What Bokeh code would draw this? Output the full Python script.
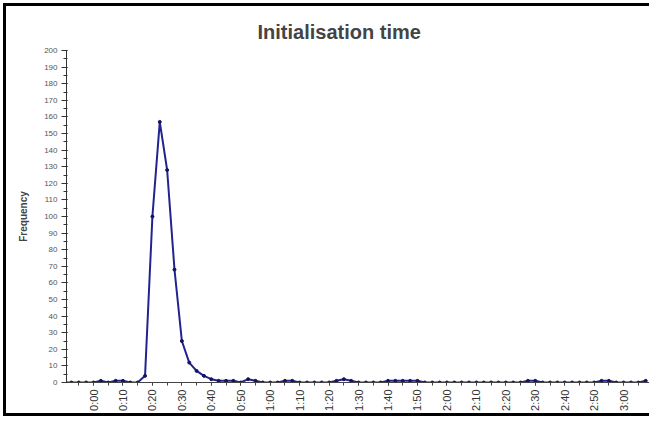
from math import pi

import numpy as np
from bokeh.plotting import figure
from bokeh.models import Range1d, FixedTicker
from bokeh.embed import file_html
from bokeh.resources import INLINE

# Sample times in seconds (bins of 2.5 s) and observed frequencies
seconds = np.arange(-10, 190, 2.5)
frequency = [
    0, 0, 0, 0, 0, 1, 0, 1, 1, 0,
    0, 4, 100, 157, 128, 68, 25, 12, 7, 4,
    2, 1, 1, 1, 0, 2, 1, 0, 0, 0,
    1, 1, 0, 0, 0, 0, 0, 1, 2, 1,
    0, 0, 0, 0, 1, 1, 1, 1, 1, 0,
    0, 0, 0, 0, 0, 0, 0, 0, 0, 0,
    0, 0, 0, 1, 1, 0, 0, 0, 0, 0,
    0, 0, 0, 1, 1, 0, 0, 0, 0, 1,
]

x_ticks = list(range(0, 181, 10))
x_tick_labels = [
    "0:00", "0:10", "0:20", "0:30", "0:40", "0:50",
    "1:00", "1:10", "1:20", "1:30", "1:40", "1:50",
    "2:00", "2:10", "2:20", "2:30", "2:40", "2:50", "3:00",
]
y_ticks = list(range(0, 201, 10))

FONT = "Liberation Sans"
LINE = "#23238f"

# the canvas sits inside a black frame drawn with CSS (open on the right,
# where the chart runs past the edge of the page)
p = figure(
    width=646, height=413,
    output_backend="svg", toolbar_location=None,
    x_range=Range1d(-9.17, 189.8), y_range=Range1d(0, 200),
    min_border_left=60, min_border_right=0,
    min_border_top=44, min_border_bottom=37,
    title="Initialisation time",
)
p.styles = {
    "margin-left": "3px",
    "margin-top": "3px",
    "border-left": "3px solid black",
    "border-top": "3px solid black",
    "border-bottom": "3px solid black",
    "border-right": "0px none",
    "outline": "none",
    "box-shadow": "none",
    "overflow": "hidden",
}
p.outline_line_color = None
p.xgrid.visible = False
p.ygrid.visible = False
p.background_fill_color = "white"
p.border_fill_color = "white"

p.title.text_font = FONT
p.title.text_font_style = "bold"
p.title.text_font_size = "20px"
p.title.align = "left"
p.title.offset = 191
p.title.standoff = 16

# the series
p.line(seconds, frequency, line_color=LINE, line_width=2)
p.scatter(seconds, frequency, size=3, color="#15155f")

# y axis
ya = p.yaxis[0]
ya.ticker = FixedTicker(ticks=y_ticks, minor_ticks=list(range(0, 201, 5)))
ya.axis_line_color = "#333333"
ya.major_tick_line_color = "#333333"
ya.minor_tick_line_color = "#333333"
ya.major_tick_out = 5
ya.major_tick_in = 1
ya.minor_tick_out = 3
ya.minor_tick_in = 1
ya.major_label_text_font = FONT
ya.major_label_text_font_size = "8px"
ya.major_label_text_color = "#555555"
ya.major_label_standoff = 4
ya.axis_label = "Frequency"
ya.axis_label_text_font = FONT
ya.axis_label_text_font_style = "bold"
ya.axis_label_text_font_size = "10px"
ya.axis_label_standoff = 12

# x axis
xa = p.xaxis[0]
xa.ticker = FixedTicker(ticks=x_ticks, minor_ticks=list(range(-5, 190, 5)))
xa.major_label_overrides = {t: lab for t, lab in zip(x_ticks, x_tick_labels)}
xa.major_label_orientation = pi / 2
xa.axis_line_color = "#444444"
xa.major_tick_line_color = "#444444"
xa.minor_tick_line_color = "#444444"
xa.major_tick_out = 3
xa.major_tick_in = 0
xa.minor_tick_out = 3
xa.minor_tick_in = 0
xa.major_label_text_font = FONT
xa.major_label_text_font_size = "11px"
xa.major_label_text_color = "#333333"
xa.major_label_standoff = 4

open("out.html", "w").write(file_html(p, INLINE))
